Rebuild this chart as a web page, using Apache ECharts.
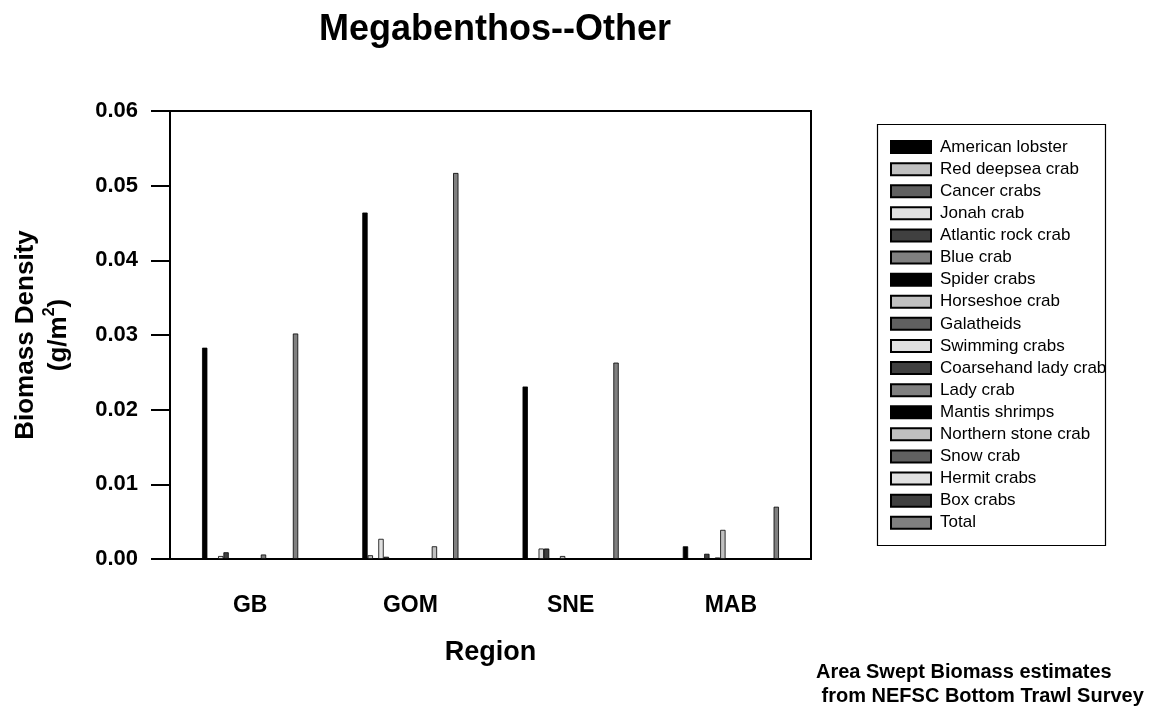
<!DOCTYPE html>
<html>
<head>
<meta charset="utf-8">
<script src="https://cdn.jsdelivr.net/npm/echarts@6/dist/echarts.min.js"></script>
<style>
html,body{margin:0;padding:0;background:#fff;}
#chart{width:1159px;height:713px;}
</style>
</head>
<body>
<div id="chart"></div>
<script>
var regions = ['GB', 'GOM', 'SNE', 'MAB'];
var speciesNames = ['American lobster','Red deepsea crab','Cancer crabs','Jonah crab','Atlantic rock crab','Blue crab','Spider crabs','Horseshoe crab','Galatheids','Swimming crabs','Coarsehand lady crab','Lady crab','Mantis shrimps','Northern stone crab','Snow crab','Hermit crabs','Box crabs','Total'];
var americanLobster   = [0.0283, 0.0464, 0.0231, 0.0017];
var redDeepseaCrab    = [0, 0.0005, 0, 0];
var cancerCrabs       = [0, 0, 0, 0];
var jonahCrab         = [0.0004, 0.0027, 0.0014, 0];
var atlanticRockCrab  = [0.0009, 0.0003, 0.0014, 0.0007];
var blueCrab          = [0, 0, 0, 0];
var spiderCrabs       = [0, 0, 0, 0.0002];
var horseshoeCrab     = [0, 0, 0.0004, 0.0039];
var galatheids        = [0, 0, 0, 0];
var swimmingCrabs     = [0, 0, 0, 0];
var coarsehandLadyCrab= [0, 0, 0, 0];
var ladyCrab          = [0.0006, 0, 0, 0];
var mantisShrimps     = [0, 0, 0, 0];
var northernStoneCrab = [0, 0.0017, 0, 0];
var snowCrab          = [0, 0, 0, 0];
var hermitCrabs       = [0, 0, 0, 0];
var boxCrabs          = [0, 0, 0, 0];
var total             = [0.0302, 0.0517, 0.0263, 0.0070];
var yTicks = [0, 0.01, 0.02, 0.03, 0.04, 0.05, 0.06];

var seriesValues = [americanLobster, redDeepseaCrab, cancerCrabs, jonahCrab, atlanticRockCrab, blueCrab, spiderCrabs, horseshoeCrab, galatheids, swimmingCrabs, coarsehandLadyCrab, ladyCrab, mantisShrimps, northernStoneCrab, snowCrab, hermitCrabs, boxCrabs, total];
var palette = ['#000000','#c0c0c0','#606060','#e0e0e0','#404040','#808080'];
var FONT = "'Liberation Sans', Arial, Helvetica, sans-serif";

var series = speciesNames.map(function (name, i) {
  return {
    name: name,
    type: 'bar',
    data: seriesValues[i],
    barGap: '0%',
    barCategoryGap: '40%',
    itemStyle: { color: palette[i % palette.length], borderColor: '#000', borderWidth: 0.8 },
    emphasis: { disabled: true },
    animation: false
  };
});

var chart = echarts.init(document.getElementById('chart'), null, { renderer: 'canvas' });
chart.setOption({
  backgroundColor: '#fff',
  animation: false,
  title: {
    text: 'Megabenthos--Other',
    left: 490, textAlign: 'center',
    top: 7,
    textStyle: { fontFamily: FONT, fontWeight: 'bold', fontSize: 36, color: '#000' }
  },
  grid: { left: 170, right: 348, top: 111, bottom: 154, show: true, borderColor: '#000', borderWidth: 2, containLabel: false },
  legend: {
    orient: 'vertical',
    left: 890, top: 136,
    padding: 0,
    itemWidth: 40, itemHeight: 12, itemGap: 0,
    icon: 'rect',
    selectedMode: false,
    textStyle: { fontFamily: FONT, fontSize: 17, color: '#000', lineHeight: 22.1, padding: [0, 0, 0, 4] },
    data: speciesNames
  },
  xAxis: {
    type: 'category',
    data: regions,
    name: 'Region',
    nameLocation: 'middle',
    nameGap: 80,
    nameTextStyle: { fontFamily: FONT, fontWeight: 'bold', fontSize: 27, color: '#000' },
    axisLine: { lineStyle: { color: '#000', width: 2 } },
    axisTick: { alignWithLabel: true, length: 19, lineStyle: { color: '#000', width: 1 } },
    axisLabel: { margin: 35, fontFamily: FONT, fontWeight: 'bold', fontSize: 23, color: '#000' },
    splitLine: { show: false }
  },
  yAxis: {
    type: 'value',
    min: 0, max: 0.06, interval: 0.01,
    axisLine: { show: true, lineStyle: { color: '#000', width: 2 } },
    axisTick: { show: true, length: 19, lineStyle: { color: '#000', width: 2 } },
    axisLabel: { margin: 32, fontFamily: FONT, fontWeight: 'bold', fontSize: 22, color: '#000',
      formatter: function (v) { return v.toFixed(2); } },
    splitLine: { show: false }
  },
  graphic: [
    {
      type: 'text',
      x: 42, y: 335,
      rotation: Math.PI / 2,
      style: {
        text: '{t|Biomass Density}\n{t|(g/m}{s|2}{t|)}',
        align: 'center', verticalAlign: 'middle',
        fill: '#000',
        rich: {
          t: { fontFamily: FONT, fontWeight: 'bold', fontSize: 26, lineHeight: 33, fill: '#000' },
          s: { fontFamily: FONT, fontWeight: 'bold', fontSize: 16, lineHeight: 33, verticalAlign: 'top', fill: '#000' }
        }
      }
    },
    {
      type: 'rect',
      shape: { x: 877.5, y: 124.5, width: 228, height: 421 },
      style: { fill: 'none', stroke: '#000', lineWidth: 1.2 },
      z: 10
    },
    {
      type: 'text',
      x: 816, y: 660,
      style: {
        text: 'Area Swept Biomass estimates\n from NEFSC Bottom Trawl Survey',
        fontFamily: FONT, fontWeight: 'bold', fontSize: 20, lineHeight: 24,
        fill: '#000', align: 'left', verticalAlign: 'top'
      }
    }
  ],
  series: series
});
</script>
</body>
</html>
